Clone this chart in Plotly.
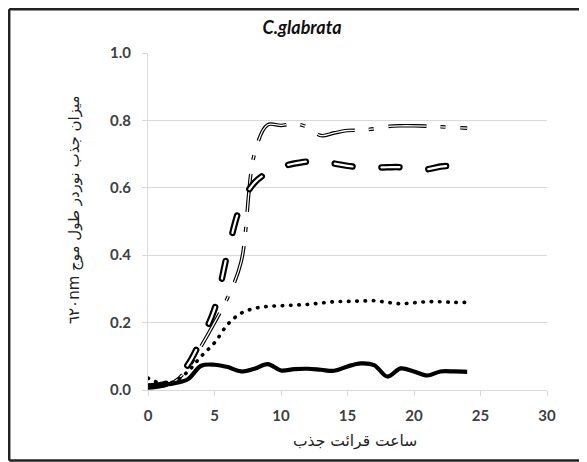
import plotly.graph_objects as go

hours = list(range(0, 25))

# upper series (thin double line, long-dash-dot)
series_a = [0.010, 0.012, 0.025, 0.065, 0.130, 0.200, 0.275, 0.380, 0.700, 0.787, 0.785,
            0.790, 0.780, 0.755, 0.763, 0.770, 0.771, 0.775, 0.782, 0.784, 0.784,
            0.783, 0.781, 0.779, 0.777]
# lower series (thick double line, dashes)
series_b = [0.010, 0.015, 0.030, 0.075, 0.150, 0.240, 0.410, 0.550, 0.615, 0.645, 0.662,
            0.672, 0.678, 0.677, 0.672, 0.665, 0.661, 0.660, 0.661, 0.661, 0.656,
            0.655, 0.663, 0.665, 0.665]
# dotted series
series_c = [0.035, 0.020, 0.025, 0.055, 0.100, 0.140, 0.195, 0.228, 0.242, 0.248, 0.250,
            0.252, 0.254, 0.258, 0.262, 0.263, 0.264, 0.265, 0.260, 0.256, 0.259,
            0.262, 0.262, 0.260, 0.260]
# solid series
series_d = [0.010, 0.015, 0.020, 0.032, 0.072, 0.075, 0.068, 0.055, 0.063, 0.077, 0.058,
            0.062, 0.063, 0.060, 0.057, 0.070, 0.079, 0.074, 0.040, 0.064, 0.055,
            0.043, 0.055, 0.055, 0.054]

x_ticks = [0, 5, 10, 15, 20, 25, 30]
y_ticks = [0.0, 0.2, 0.4, 0.6, 0.8, 1.0]

title_text = "C.glabrata"
x_title = "ساعت قرائت جذب"
y_title = "\u202Bمیزان جذب نوردر طول موج ٦٢٠nm\u202C"

fig = go.Figure()

def add(y, color, width, dash):
    fig.add_trace(go.Scatter(
        x=hours, y=y, mode="lines",
        line=dict(color=color, width=width, dash=dash, shape="spline", smoothing=1.0),
        hoverinfo="skip", showlegend=False))

dash_a = "38px,14px,5px,15px"
add(series_a, "black", 3.6, dash_a)
add(series_a, "white", 1.3, dash_a)
dash_b = "18px,29px"
add(series_b, "black", 6.5, dash_b)
add(series_b, "white", 2.2, dash_b)
add(series_c, "black", 3.6, "0.5px,7.8px")
add(series_d, "black", 4.2, "solid")

# page body has an 8px margin; figure coordinates are screen minus 8
OFF = 8
W, H = 587 - OFF, 462 - OFF
L, T = 148 - OFF, 53 - OFF
R = W - (547 - OFF)
B = H - (390 - OFF)
pw, ph = W - L - R, H - T - B

def px_x(px):
    return (px - OFF - L) / pw

def px_y(py):
    return (H - B - (py - OFF)) / ph

frame = dict(color="#222222", width=2.5)
fx0, fx1, fy0, fy1 = px_x(9.2), px_x(640), px_y(460.5), px_y(9.2)
fig.add_shape(type="line", xref="paper", yref="paper", x0=fx0, x1=fx0, y0=fy0, y1=fy1, line=frame, layer="above")
fig.add_shape(type="line", xref="paper", yref="paper", x0=fx0, x1=fx1, y0=fy1, y1=fy1, line=frame, layer="above")
fig.add_shape(type="line", xref="paper", yref="paper", x0=fx0, x1=fx1, y0=fy0, y1=fy0, line=frame, layer="above")

fig.add_annotation(text=x_title, xref="paper", yref="paper",
                   x=px_x(355), y=px_y(441), showarrow=False,
                   xanchor="center", yanchor="middle",
                   font=dict(family="DejaVu Sans", size=15.5, color="#222222"))
fig.add_annotation(text=y_title, xref="paper", yref="paper",
                   x=px_x(74), y=px_y(210), showarrow=False, textangle=-90,
                   xanchor="center", yanchor="middle",
                   font=dict(family="DejaVu Sans", size=15, color="#222222"))

tickfont = dict(family="Lato", size=15, color="#404040", weight="bold")

fig.update_layout(
    width=W, height=H,
    margin=dict(l=L, r=R, t=T, b=B, autoexpand=False),
    paper_bgcolor="white", plot_bgcolor="white",
    title=dict(text="<b><i>" + title_text + "</i></b>", xref="container", yref="container",
               x=(302 - OFF) / W, y=1 - (28 - OFF) / H, xanchor="center", yanchor="middle",
               font=dict(family="Lato", size=18, color="#111111")),
    xaxis=dict(range=[0, 30], tickvals=x_ticks, showgrid=False, zeroline=False,
               showline=True, linecolor="#d9d9d9", linewidth=1,
               ticks="outside", ticklen=5, tickcolor="#d9d9d9",
               ticklabelstandoff=7,
               tickfont=tickfont, fixedrange=True),
    yaxis=dict(range=[0, 1.0], tickvals=y_ticks, tickformat=".1f",
               showgrid=True, gridcolor="#d9d9d9", gridwidth=1, zeroline=False,
               showline=True, linecolor="#d9d9d9", linewidth=1,
               ticks="outside", ticklen=5, tickcolor="#d9d9d9",
               ticklabelstandoff=8,
               tickfont=tickfont, fixedrange=True),
)

post = """
document.documentElement.style.overflow = 'hidden';
var gd = document.getElementById('{plot_id}');
function caps() {
  var traces = gd.querySelectorAll('.scatterlayer .trace');
  [2, 3, 4].forEach(function(i) {
    if (!traces[i]) return;
    traces[i].querySelectorAll('path.js-line').forEach(function(p) {
      p.style.strokeLinecap = 'round';
    });
  });
}
caps();
gd.on && gd.on('plotly_afterplot', caps);
"""

fig.write_html("out.html", post_script=post)
